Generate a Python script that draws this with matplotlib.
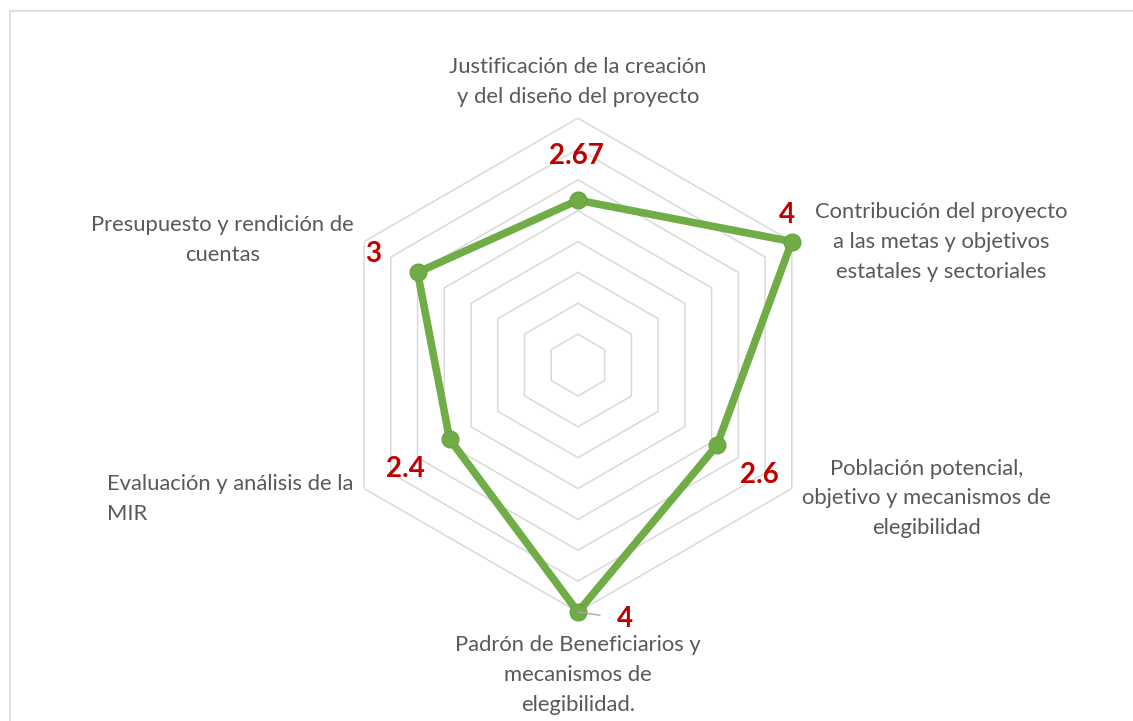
import numpy as np
import matplotlib
matplotlib.use("Agg")
import matplotlib.pyplot as plt
from matplotlib.patches import Rectangle

# data
categories = [
    "Justificación de la creación\ny del diseño del proyecto",
    "Contribución del proyecto\na las metas y objetivos\nestatales y sectoriales",
    "Población potencial,\nobjetivo y mecanismos de\nelegibilidad",
    "Padrón de Beneficiarios y\nmecanismos de\nelegibilidad.",
    "Evaluación y análisis de la\nMIR",
    "Presupuesto y rendición de\ncuentas",
]
values = [2.67, 4, 2.6, 4, 2.4, 3]
value_labels = ["2.67", "4", "2.6", "4", "2.4", "3"]
grid_levels = [0.5, 1, 1.5, 2, 2.5, 3, 3.5, 4]

# where the texts sit (angle in degrees clockwise from top, radius in data units)
cat_pos = [(0, 4.58), (71.3, 6.22), (110.9, 6.05), (180, 5.02), (248.9, 6.04), (289.4, 6.11)]
cat_align = ["center", "center", "center", "center", "left", "center"]
lab_pos = [(-0.3, 3.38), (54.3, 4.17), (121.1, 3.44), (169.6, 4.18), (238.8, 3.26), (298.4, 3.78)]

green = "#70AD47"
grey_txt = "#595959"
red = "#C00000"

plt.rcParams['font.family'] = ['Lato', 'DejaVu Sans']

fig = plt.figure(figsize=(11.33, 7.21), dpi=100)
fig.patches.append(Rectangle((10 / 1133, -0.1), 1.2, 1 - 11 / 721 + 0.1, transform=fig.transFigure,
                             fill=False, edgecolor="#D9D9D9", linewidth=1.2))

ax = fig.add_axes([0.2921, 0.1512, 0.436, 0.685], projection="polar")
ax.set_theta_zero_location("N")
ax.set_theta_direction(-1)
ax.set_ylim(0, 4)
ax.grid(False)
ax.spines["polar"].set_visible(False)
ax.set_xticks([])
ax.set_yticks([])
ax.patch.set_alpha(0)

angles = np.deg2rad(np.arange(len(categories)) * 360 / len(categories))
closed = np.append(angles, angles[0])

# hexagonal grid
for lvl in grid_levels:
    ax.plot(closed, [lvl] * len(closed), color="#D9D9D9", linewidth=1.1, zorder=1)

# series
ax.plot(closed, values + values[:1], color=green, linewidth=5.5, zorder=3,
        solid_joinstyle="round", clip_on=False)
ax.plot(angles, values, "o", color=green, markersize=12, markeredgecolor="#6AA443",
        zorder=4, clip_on=False)

# category labels
for (deg, r), txt, al in zip(cat_pos, categories, cat_align):
    ax.text(np.deg2rad(deg), r, txt, ha="center", va="center", multialignment=al,
            fontsize=15.8, color=grey_txt, linespacing=1.6)

# value labels
for i, ((deg, r), txt) in enumerate(zip(lab_pos, value_labels)):
    if i == 3:
        ax.annotate(txt, xy=(angles[i], values[i]), xytext=(np.deg2rad(deg), r),
                    ha="center", va="center", fontsize=20, fontweight="bold", color=red,
                    arrowprops=dict(arrowstyle="-", color="#A6A6A6", lw=1,
                                    shrinkA=10, shrinkB=0), zorder=5)
    else:
        ax.text(np.deg2rad(deg), r, txt, ha="center", va="center", fontsize=20,
                fontweight="bold", color=red, zorder=5)

fig.savefig("out.png", dpi=100)
